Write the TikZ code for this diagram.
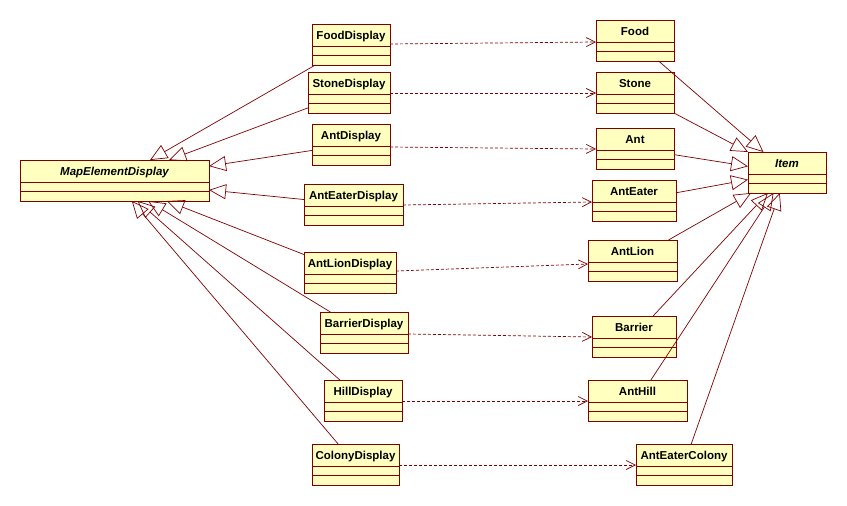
\documentclass[tikz,border=0pt]{standalone}
\usepackage{fontspec}
\setmainfont{Liberation Sans}
\usetikzlibrary{arrows.meta,calc}
\definecolor{umlline}{HTML}{800000}
\definecolor{umlfill}{HTML}{FFFFC0}
\tikzset{
  classbox/.style={draw=umlline, fill=umlfill, line width=0.9pt, minimum height=41pt, inner sep=0pt, outer sep=0pt},
  classtitle/.style={font=\fontsize{11.5}{13}\selectfont\bfseries, text=black, inner sep=0pt, anchor=base},
  classline/.style={draw=umlline, line width=0.9pt},
  depline/.style={draw=umlline, line width=0.7pt, dash pattern=on 3pt off 2pt, -{Straight Barb[length=9pt,width=9pt,line width=0.7pt]}},
  genline/.style={draw=umlline, line width=0.7pt, -{Triangle[open,length=17pt,width=15pt,line width=0.7pt]}}
}
\newcommand{\umlclass}[5]{%
  \pgfmathsetmacro\umlW{#4-#2}%
  \pgfmathsetmacro\umlX{(#2+#4)/2}%
  \pgfmathsetmacro\umlY{#3+20.5}%
  \node[classbox, minimum width=\umlW pt] (#1) at (\umlX,\umlY) {};
  \node[classtitle] at ($(#1.north)+(0,15)$) {#5};
  \draw[classline] ($(#1.north west)+(0,22)$) -- ($(#1.north east)+(0,22)$);
  \draw[classline] ($(#1.north west)+(0,31)$) -- ($(#1.north east)+(0,31)$);
}
\newcommand{\umldep}[4]{\draw[depline] ($(#1.north east)+(0,#2)$) -- ($(#3.north west)+(0,#4)$);}
\begin{document}
\begin{tikzpicture}[x=1pt,y=-1pt]
\useasboundingbox (0,0) rectangle (847,506);
\fill[white] (0,0) rectangle (847,506);
% left
\umlclass{MapElementDisplay}{20}{160}{209}{\itshape MapElementDisplay}
% display column
\umlclass{FoodDisplay}{312}{24}{390}{FoodDisplay}
\umlclass{StoneDisplay}{308}{72}{390}{StoneDisplay}
\umlclass{AntDisplay}{312}{124}{390}{AntDisplay}
\umlclass{AntEaterDisplay}{304}{184}{403}{AntEaterDisplay}
\umlclass{AntLionDisplay}{304}{252}{396}{AntLionDisplay}
\umlclass{BarrierDisplay}{320}{312}{408}{BarrierDisplay}
\umlclass{HillDisplay}{324}{380}{402}{HillDisplay}
\umlclass{ColonyDisplay}{312}{444}{399}{ColonyDisplay}
% entity column
\umlclass{Food}{596}{20}{674}{Food}
\umlclass{Stone}{596}{72}{674}{Stone}
\umlclass{Ant}{596}{128}{674}{Ant}
\umlclass{AntEater}{592}{180}{676}{AntEater}
\umlclass{AntLion}{588}{240}{677}{AntLion}
\umlclass{Barrier}{592}{316}{676}{Barrier}
\umlclass{AntHill}{588}{380}{687}{AntHill}
\umlclass{AntEaterColony}{636}{444}{732}{AntEaterColony}
\umlclass{Item}{748}{152}{826}{\itshape Item}
% dependencies
\umldep{FoodDisplay}{20}{Food}{22}
\umldep{StoneDisplay}{21}{Stone}{21}
\umldep{AntDisplay}{23}{Ant}{21}
\umldep{AntEaterDisplay}{21}{AntEater}{22}
\umldep{AntLionDisplay}{19}{AntLion}{24}
\umldep{BarrierDisplay}{22}{Barrier}{21}
\umldep{HillDisplay}{21}{AntHill}{21}
\umldep{ColonyDisplay}{21}{AntEaterColony}{21}
% generalizations to MapElementDisplay
\foreach \n in {FoodDisplay,StoneDisplay,AntDisplay,AntEaterDisplay,AntLionDisplay,BarrierDisplay,HillDisplay,ColonyDisplay}
  \draw[genline] (\n) -- (MapElementDisplay);
% generalizations to Item
\foreach \n in {Food,Stone,Ant,AntEater,AntLion,Barrier,AntHill,AntEaterColony}
  \draw[genline] (\n) -- (Item);
\end{tikzpicture}
\end{document}
